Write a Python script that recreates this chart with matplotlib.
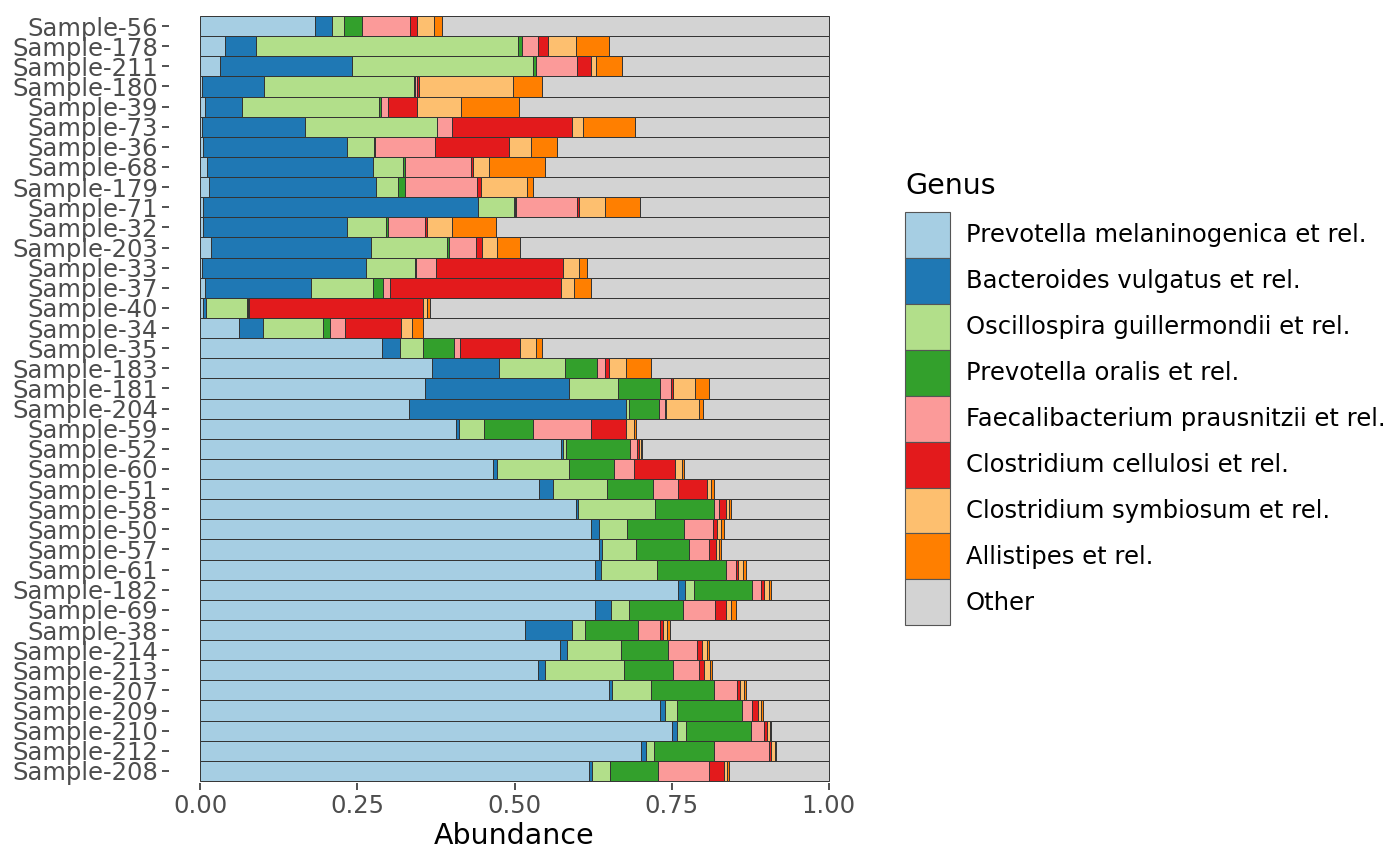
import matplotlib
matplotlib.use('Agg')
import matplotlib.pyplot as plt
from matplotlib.patches import Patch
import numpy as np

samples = ['Sample-56', 'Sample-178', 'Sample-211', 'Sample-180', 'Sample-39', 'Sample-73',
           'Sample-36', 'Sample-68', 'Sample-179', 'Sample-71', 'Sample-32', 'Sample-203',
           'Sample-33', 'Sample-37', 'Sample-40', 'Sample-34', 'Sample-35', 'Sample-183',
           'Sample-181', 'Sample-204', 'Sample-59', 'Sample-52', 'Sample-60', 'Sample-51',
           'Sample-58', 'Sample-50', 'Sample-57', 'Sample-61', 'Sample-182', 'Sample-69',
           'Sample-38', 'Sample-214', 'Sample-213', 'Sample-207', 'Sample-209', 'Sample-210',
           'Sample-212', 'Sample-208']

genera = ['Prevotella melaninogenica et rel.', 'Bacteroides vulgatus et rel.',
          'Oscillospira guillermondii et rel.', 'Prevotella oralis et rel.',
          'Faecalibacterium prausnitzii et rel.', 'Clostridium cellulosi et rel.',
          'Clostridium symbiosum et rel.', 'Allistipes et rel.', 'Other']

prevotella_mel = [0.183, 0.039, 0.031, 0.002, 0.008, 0.002, 0.004, 0.010, 0.013, 0.004,
                  0.004, 0.017, 0.003, 0.007, 0.004, 0.061, 0.289, 0.368, 0.357, 0.332,
                  0.407, 0.574, 0.465, 0.539, 0.598, 0.622, 0.635, 0.628, 0.761, 0.628,
                  0.517, 0.573, 0.538, 0.651, 0.732, 0.751, 0.702, 0.618]
bacteroides = [0.027, 0.049, 0.210, 0.099, 0.058, 0.165, 0.229, 0.265, 0.266, 0.438,
               0.229, 0.254, 0.261, 0.169, 0.005, 0.039, 0.028, 0.108, 0.229, 0.346,
               0.004, 0.004, 0.007, 0.022, 0.003, 0.012, 0.004, 0.010, 0.011, 0.026,
               0.074, 0.010, 0.010, 0.005, 0.007, 0.008, 0.007, 0.005]
oscillospira = [0.018, 0.418, 0.289, 0.239, 0.219, 0.209, 0.043, 0.047, 0.036, 0.058,
                0.062, 0.121, 0.077, 0.098, 0.065, 0.095, 0.038, 0.104, 0.079, 0.005,
                0.041, 0.004, 0.114, 0.086, 0.123, 0.045, 0.055, 0.089, 0.014, 0.028,
                0.022, 0.087, 0.127, 0.062, 0.019, 0.014, 0.013, 0.029]
prevotella_ora = [0.030, 0.006, 0.004, 0.002, 0.002, 0.001, 0.002, 0.004, 0.010, 0.002,
                  0.003, 0.003, 0.002, 0.016, 0.001, 0.011, 0.048, 0.052, 0.067, 0.047,
                  0.078, 0.102, 0.073, 0.074, 0.094, 0.091, 0.084, 0.110, 0.092, 0.087,
                  0.084, 0.075, 0.078, 0.100, 0.104, 0.104, 0.095, 0.077]
faecali = [0.076, 0.026, 0.066, 0.002, 0.011, 0.024, 0.095, 0.104, 0.116, 0.097,
           0.060, 0.043, 0.032, 0.012, 0.003, 0.024, 0.011, 0.012, 0.017, 0.010,
           0.091, 0.011, 0.032, 0.039, 0.008, 0.046, 0.032, 0.016, 0.014, 0.050,
           0.035, 0.045, 0.040, 0.036, 0.016, 0.020, 0.088, 0.080]
cellulosi = [0.011, 0.016, 0.021, 0.004, 0.046, 0.191, 0.118, 0.004, 0.006, 0.004,
             0.002, 0.010, 0.203, 0.272, 0.277, 0.089, 0.095, 0.006, 0.004, 0.001,
             0.056, 0.003, 0.065, 0.047, 0.011, 0.006, 0.010, 0.003, 0.005, 0.018,
             0.005, 0.009, 0.008, 0.005, 0.009, 0.005, 0.004, 0.024]
symbiosum = [0.027, 0.044, 0.008, 0.149, 0.071, 0.017, 0.036, 0.026, 0.073, 0.041,
             0.041, 0.024, 0.025, 0.020, 0.006, 0.018, 0.026, 0.028, 0.035, 0.053,
             0.014, 0.003, 0.011, 0.006, 0.005, 0.007, 0.005, 0.008, 0.008, 0.008,
             0.005, 0.007, 0.011, 0.006, 0.006, 0.004, 0.005, 0.005]
allistipes = [0.013, 0.053, 0.042, 0.047, 0.092, 0.083, 0.041, 0.089, 0.010, 0.056,
              0.069, 0.036, 0.013, 0.027, 0.004, 0.018, 0.009, 0.040, 0.021, 0.006,
              0.003, 0.002, 0.003, 0.005, 0.003, 0.004, 0.004, 0.004, 0.004, 0.007,
              0.006, 0.003, 0.002, 0.003, 0.002, 0.002, 0.002, 0.003]

colors = ['#A6CEE3', '#1F78B4', '#B2DF8A', '#33A02C', '#FB9A99', '#E31A1C',
          '#FDBF6F', '#FF7F00', '#D3D3D3']

series = [prevotella_mel, bacteroides, oscillospira, prevotella_ora, faecali,
          cellulosi, symbiosum, allistipes]
series = [np.array(s) for s in series]
# whatever is left over goes to "Other"
other = 1 - np.sum(series, axis=0)
series.append(other)

fig = plt.figure(figsize=(14, 8.66), dpi=100)
ax = fig.add_axes([169/1400, 1 - 783/866, (860-169)/1400, (783-14)/866])

ypos = np.arange(len(samples))
left = np.zeros(len(samples))
for vals, col, name in zip(series, colors, genera):
    ax.barh(ypos, vals, left=left, height=1.0, color=col,
            edgecolor='#333333', linewidth=0.7, label=name)
    left += vals

ax.set_xlim(-0.05, 1.05)
ax.set_ylim(len(samples) - 0.4, -0.6)
ax.set_yticks(ypos)
ax.set_yticklabels(samples)
ax.set_xticks([0, 0.25, 0.5, 0.75, 1.0])
ax.set_xticklabels(['0.00', '0.25', '0.50', '0.75', '1.00'])
ax.tick_params(axis='both', labelsize=17.5, labelcolor='#4D4D4D', color='#333333',
               length=5, width=1.2, pad=3)
for s in ax.spines.values():
    s.set_visible(False)
ax.set_xlabel('Abundance', fontsize=20.5, color='black', labelpad=3)

# legend title drawn separately so the gap to the keys can be set
fig.text(905/1400, 1 - 186/866, 'Genus', fontsize=20.5, ha='left', va='center')
handles = [Patch(facecolor=c, edgecolor='#555555', linewidth=0.8) for c in colors]
leg = fig.legend(handles, genera, loc='upper left', bbox_to_anchor=(905/1400, 1 - 212/866),
                 frameon=False, fontsize=17.5,
                 handlelength=1.85, handleheight=2.53, labelspacing=0.0,
                 handletextpad=0.65, borderpad=0, borderaxespad=0)

fig.savefig('out.png', dpi=100)
